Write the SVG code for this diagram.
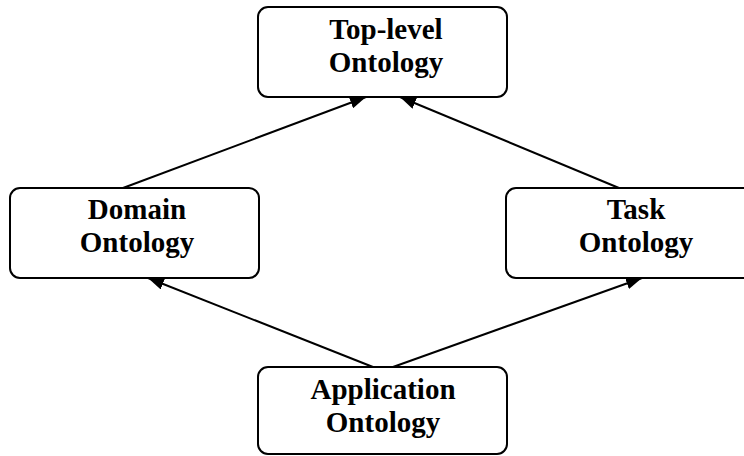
<svg xmlns="http://www.w3.org/2000/svg" width="744" height="456" viewBox="0 0 744 456">
  <style>
    .box { fill: #fff; stroke: #000; stroke-width: 2; }
    .label { font-family: "Liberation Serif", "Times New Roman", serif; font-weight: bold; font-size: 29px; text-anchor: middle; fill: #000; }
    .edge { stroke: #000; stroke-width: 2; fill: none; marker-end: url(#arrow); }
  </style>
  <defs>
    <marker id="arrow" viewBox="0 0 16 12" refX="16" refY="6" markerWidth="8" markerHeight="6" markerUnits="strokeWidth" orient="auto">
      <path d="M0,0 L16,6 L0,12 Z" fill="#000"/>
    </marker>
  </defs>
  <rect width="744" height="456" fill="#fff"/>

  <g id="connectors">
    <line class="edge" x1="123" y1="188" x2="366" y2="97"/>
    <line class="edge" x1="619" y1="188" x2="400" y2="97"/>
    <line class="edge" x1="373" y1="367" x2="148" y2="278"/>
    <line class="edge" x1="393" y1="367" x2="642" y2="278"/>
  </g>

  <g id="top-level">
    <rect class="box" x="258" y="7" width="249" height="90" rx="10"/>
    <text class="label" x="386" y="39">Top-level</text>
    <text class="label" x="386" y="72">Ontology</text>
  </g>

  <g id="domain">
    <rect class="box" x="10" y="188" width="249" height="90" rx="10"/>
    <text class="label" x="137" y="219">Domain</text>
    <text class="label" x="137" y="252">Ontology</text>
  </g>

  <g id="task">
    <rect class="box" x="506" y="188" width="249" height="90" rx="10"/>
    <text class="label" x="636" y="219">Task</text>
    <text class="label" x="636" y="252">Ontology</text>
  </g>

  <g id="application">
    <rect class="box" x="258" y="367" width="249" height="87" rx="10"/>
    <text class="label" x="383" y="399">Application</text>
    <text class="label" x="383" y="432">Ontology</text>
  </g>
</svg>
